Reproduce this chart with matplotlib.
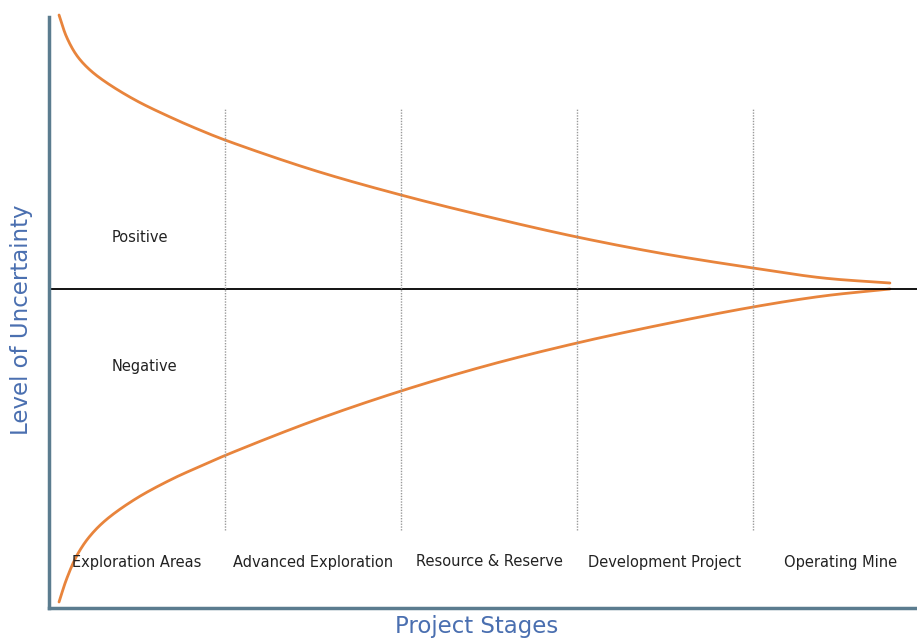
import numpy as np
import matplotlib
matplotlib.use("Agg")
import matplotlib.pyplot as plt

# ---- data ----
stages = ["Exploration Areas", "Advanced Exploration", "Resource & Reserve",
          "Development Project", "Operating Mine"]
stage_bounds = [1, 2, 3, 4]

upper_x = [0.057, 0.10, 0.16, 0.233, 0.33, 0.50, 0.70, 0.85, 1.00, 1.50, 2.00,
           2.50, 3.00, 3.50, 4.00, 4.40, 4.778]
upper_y = [2.74, 2.52, 2.33, 2.19, 2.06, 1.88, 1.71, 1.595, 1.49, 1.19, 0.94,
           0.72, 0.52, 0.35, 0.21, 0.11, 0.06]

lower_x = [0.057, 0.10, 0.16, 0.233, 0.33, 0.50, 0.70, 0.85, 1.00, 1.50, 2.00,
           2.50, 3.00, 3.50, 4.00, 4.40, 4.778]
lower_y = [-3.13, -2.90, -2.66, -2.47, -2.30, -2.09, -1.90, -1.78, -1.665, -1.32, -1.02,
           -0.76, -0.54, -0.35, -0.18, -0.07, 0.00]

region_labels = ["Positive", "Negative"]


def smooth(xs, ys, n=20):
    """Centripetal Catmull-Rom smoothing for drawing only."""
    p = np.column_stack([xs, ys]).astype(float)
    p = np.vstack([2 * p[0] - p[1], p, 2 * p[-1] - p[-2]])
    out = []
    alpha = 0.5
    for i in range(1, len(p) - 2):
        p0, p1, p2, p3 = p[i - 1], p[i], p[i + 1], p[i + 2]
        t0 = 0.0
        t1 = t0 + np.linalg.norm(p1 - p0) ** alpha
        t2 = t1 + np.linalg.norm(p2 - p1) ** alpha
        t3 = t2 + np.linalg.norm(p3 - p2) ** alpha
        for t in np.linspace(t1, t2, n, endpoint=False):
            a1 = (t1 - t) / (t1 - t0) * p0 + (t - t0) / (t1 - t0) * p1
            a2 = (t2 - t) / (t2 - t1) * p1 + (t - t1) / (t2 - t1) * p2
            a3 = (t3 - t) / (t3 - t2) * p2 + (t - t2) / (t3 - t2) * p3
            b1 = (t2 - t) / (t2 - t0) * a1 + (t - t0) / (t2 - t0) * a2
            b2 = (t3 - t) / (t3 - t1) * a2 + (t - t1) / (t3 - t1) * a3
            c = (t2 - t) / (t2 - t1) * b1 + (t - t1) / (t2 - t1) * b2
            out.append(c)
    out.append(p[-2])
    out = np.array(out)
    return out[:, 0], out[:, 1]


fig = plt.figure(figsize=(9.17, 6.39), dpi=100)
ax = fig.add_axes([49 / 917, 31 / 639, 868 / 917, 591 / 639])
ax.set_xlim(0, 868 / 176)
ax.set_ylim(-3.19, 2.72)

orange = "#E8843C"
sx, sy = smooth(upper_x, upper_y)
ax.plot(sx, sy, color=orange, lw=2.0, clip_on=False, solid_capstyle="round")
sx, sy = smooth(lower_x, lower_y)
ax.plot(sx, sy, color=orange, lw=2.0, clip_on=False, solid_capstyle="round")

ax.axhline(0, color="black", lw=1.3)
for b in stage_bounds:
    ax.plot([b, b], [-2.41, 1.81], color="#9a9a9a", lw=1.0, ls=(0, (1, 1)))

font = "DejaVu Sans"
for i, s in enumerate(stages):
    ax.text(i + 0.5, -2.73, s, ha="center", va="center", fontsize=10.5,
            color="#222222", family=font)

ax.text(0.517, 0.52, region_labels[0], ha="center", va="center", fontsize=10.5,
        color="#222222", family=font)
ax.text(0.545, -0.78, region_labels[1], ha="center", va="center", fontsize=10.5,
        color="#222222", family=font)

for side in ["top", "right"]:
    ax.spines[side].set_visible(False)
for side in ["left", "bottom"]:
    ax.spines[side].set_color("#5B7C8F")
    ax.spines[side].set_linewidth(2.5)
ax.set_xticks([])
ax.set_yticks([])

fig.text(22 / 917, 1 - 320 / 639, "Level of Uncertainty", rotation=90,
         ha="center", va="center", fontsize=16.5, color="#4A6FB0", family=font)
fig.text(477 / 917, 1 - 626 / 639, "Project Stages", ha="center", va="center",
         fontsize=16.5, color="#4A6FB0", family=font)

fig.savefig("out.png", dpi=100, facecolor="white")
